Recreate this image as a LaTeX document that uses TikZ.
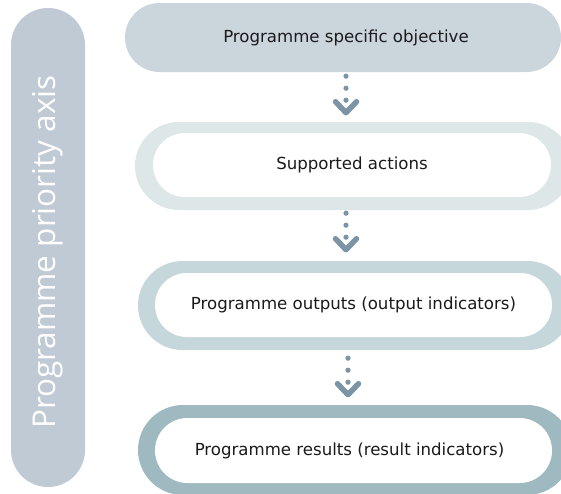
\documentclass[tikz,border=0pt]{standalone}
\usepackage{fontspec}
\setmainfont{DejaVu Sans}
\newfontfamily\axisfont{Open Sans}
\usetikzlibrary{shapes.misc,calc}
\definecolor{barcol}{HTML}{BFCAD4}
\definecolor{boxonecol}{HTML}{CBD5DC}
\definecolor{boxtwocol}{HTML}{DDE7E8}
\definecolor{boxthreecol}{HTML}{C6D7DB}
\definecolor{boxfourcol}{HTML}{9EBAC0}
\definecolor{arrowcol}{HTML}{7B95A6}
\definecolor{txtcol}{HTML}{1A1A1A}
\tikzset{
  pill/.style={rounded rectangle, inner sep=0pt, draw=none},
  boxfont/.style={font=\fontsize{16.6}{19}\selectfont},
  innerpill/.style={pill, fill=white, text=txtcol, boxfont},
  dotstyle/.style={fill=arrowcol},
  chevstyle/.style={draw=arrowcol, line width=5.5pt, line cap=round, line join=round}
}
\newcommand\chevarrow[1]{%
  \fill[dotstyle] (#1) circle (2.6pt) ($(#1)+(0,12)$) circle (2.6pt) ($(#1)+(0,24)$) circle (2.6pt);
  \draw[chevstyle] ($(#1)+(-10.5,25.5)$) -- ($(#1)+(0,36.5)$) -- ($(#1)+(10.5,25.5)$);
}
\begin{document}
\begin{tikzpicture}[x=1pt,y=-1pt]
\useasboundingbox (0,0) rectangle (561,493);
\clip (0,0) rectangle (561,493);
% left axis bar
\node[pill, fill=barcol, rotate=90, minimum width=479pt, minimum height=74pt,
      text=white, font=\axisfont\fontsize{31.5}{34}\selectfont] (axis) at (48,247.5) {\hspace*{-9pt}Programme priority axis};
% box 1
\node[pill, fill=boxonecol, minimum width=436pt, minimum height=69pt,
      text=txtcol, boxfont] (b1) at (343,37.5) {\hspace*{6pt}Programme specific objective};
% box 2
\node[pill, fill=boxtwocol, minimum width=437pt, minimum height=88pt] (b2o) at (353.5,166) {};
\node[innerpill, minimum width=398pt, minimum height=64pt] (b2) at (352,165) {Supported actions};
% box 3
\node[pill, fill=boxthreecol, minimum width=434pt, minimum height=89pt] (b3o) at (355,305.5) {};
\node[innerpill, minimum width=397pt, minimum height=64pt] (b3) at (353.5,305) {Programme outputs (output indicators)};
% box 4
\node[pill, fill=boxfourcol, minimum width=434pt, minimum height=90pt] (b4o) at (355,450) {};
\node[innerpill, minimum width=397pt, minimum height=65pt] (b4) at (353.5,450.5) {\hspace*{-8pt}Programme results (result indicators)};
% arrows
\coordinate (d1) at ($(b1.south)+(3,4)$);
\coordinate (d2) at ($(b2o.south)+(-7.5,3)$);
\coordinate (d3) at ($(b3o.south)+(-7,8)$);
\chevarrow{d1}
\chevarrow{d2}
\chevarrow{d3}
\end{tikzpicture}
\end{document}
